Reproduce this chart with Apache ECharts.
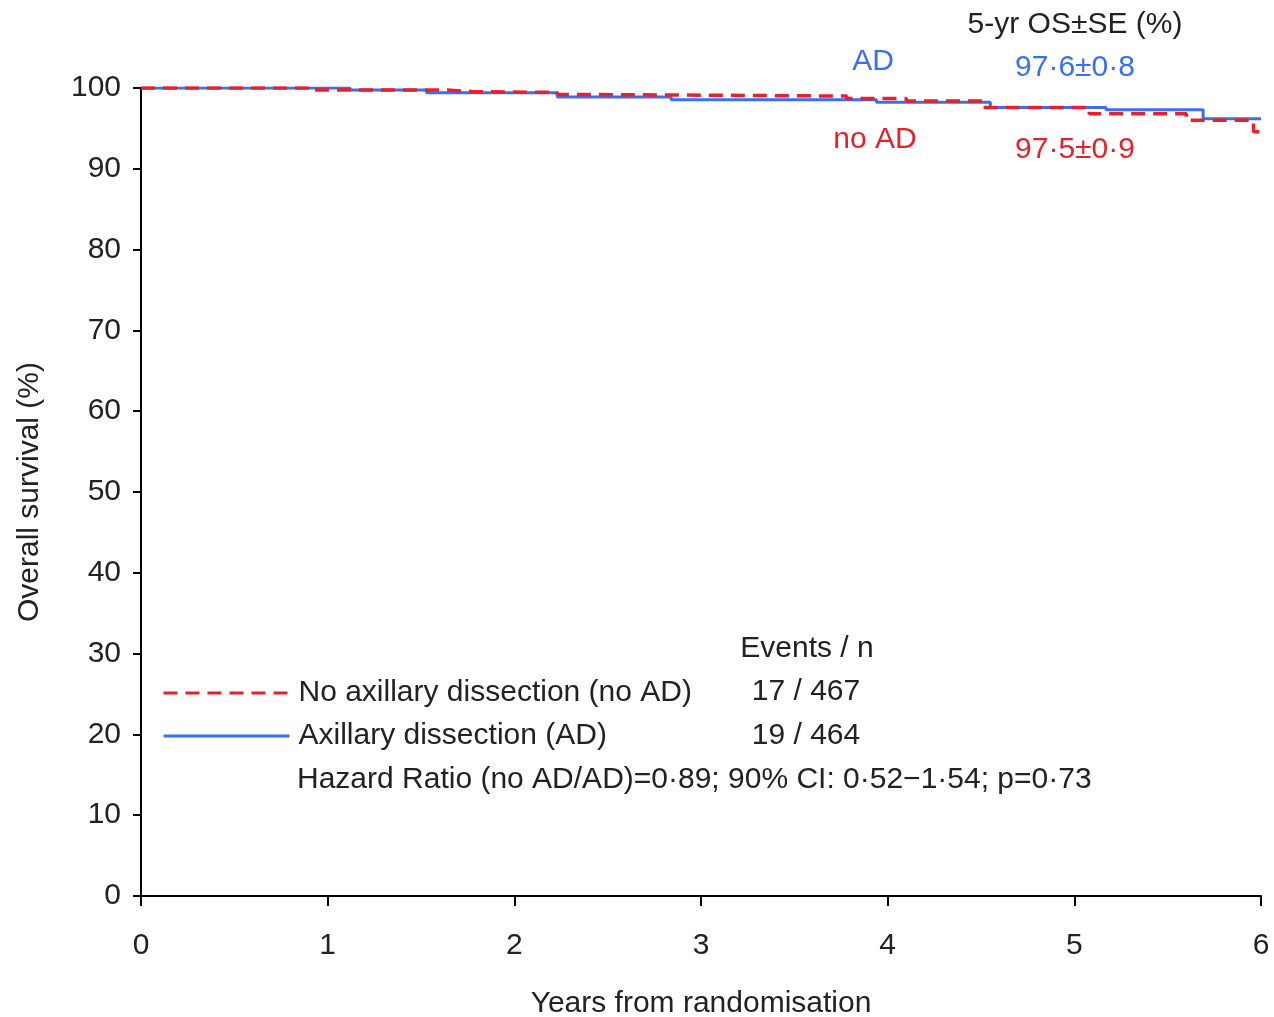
<!DOCTYPE html>
<html>
<head>
<meta charset="utf-8">
<script src="https://cdn.jsdelivr.net/npm/echarts@6/dist/echarts.min.js"></script>
<style>
  html, body { margin: 0; padding: 0; background: #fff; }
  #chart { width: 1274px; height: 1017px; }
</style>
</head>
<body>
<div id="chart"></div>
<script>
// Kaplan-Meier steps: [year of event, survival % after event]
const adSteps = [
  [0, 100], [1.12, 99.75], [1.53, 99.4], [2.23, 98.9], [2.84, 98.55],
  [3.94, 98.25], [4.55, 97.6], [5.17, 97.3], [5.69, 96.2], [6.0, 96.2]
];
const noAdSteps = [
  [0, 100], [0.93, 99.75], [1.64, 99.55], [1.78, 99.45], [2.23, 99.2],
  [2.38, 99.0], [3.78, 98.7], [4.1, 98.4], [4.51, 97.6], [5.08, 96.8],
  [5.6, 96.0], [5.96, 94.6], [6.0, 94.6]
];
const seriesNames = ["No axillary dissection (no AD)", "Axillary dissection (AD)"];
const eventsN = ["17 / 467", "19 / 464"];
const osTitle = "5-yr OS\u00b1SE (%)";
const osAd = "97\u00b76\u00b10\u00b78";
const osNoAd = "97\u00b75\u00b10\u00b79";
const hazardText = "Hazard Ratio (no AD/AD)=0\u00b789; 90% CI: 0\u00b752\u22121\u00b754; p=0\u00b773";

const red = "#e8202a";
const blue = "#3a6ff2";
const txt = "#222";
const font = "Liberation Sans, Arial, sans-serif";
const fs = 30;

function label(x, y, text, color, align) {
  return {
    type: "text",
    x: x,
    y: y,
    style: {
      text: text,
      fontSize: fs,
      fill: color,
      fontFamily: font,
      align: align || "center",
      verticalAlign: "middle"
    }
  };
}

const chart = echarts.init(document.getElementById("chart"), null, { renderer: "canvas" });

chart.setOption({
  animation: false,
  backgroundColor: "#fff",
  textStyle: { fontFamily: font },
  grid: { left: 141, right: 13, top: 88, bottom: 121, outerBoundsMode: "none", containLabel: false },
  xAxis: {
    type: "value",
    min: 0,
    max: 6,
    interval: 1,
    name: "Years from randomisation",
    nameLocation: "middle",
    nameGap: 93,
    nameTextStyle: { fontSize: fs, color: txt, fontFamily: font },
    axisLine: { onZero: false, lineStyle: { color: "#000", width: 2 } },
    axisTick: { show: true, length: 10, lineStyle: { color: "#000", width: 2 } },
    axisLabel: { fontSize: fs, color: txt, margin: 35, fontFamily: font },
    splitLine: { show: false }
  },
  yAxis: {
    type: "value",
    min: 0,
    max: 100,
    interval: 10,
    name: "Overall survival (%)",
    nameLocation: "middle",
    nameGap: 96,
    nameTextStyle: { fontSize: fs, color: txt, fontFamily: font },
    axisLine: { show: true, lineStyle: { color: "#000", width: 2 } },
    axisTick: { show: true, length: 8, lineStyle: { color: "#000", width: 2 } },
    axisLabel: { fontSize: fs, color: txt, margin: 20, fontFamily: font },
    splitLine: { show: false }
  },
  legend: {
    orient: "vertical",
    left: 157,
    top: 673,
    itemWidth: 126,
    itemHeight: 14,
    itemGap: 13,
    itemStyle: { opacity: 0 },
    lineStyle: { width: 3 },
    data: [seriesNames[0], seriesNames[1]],
    textStyle: { fontSize: fs, color: txt, fontFamily: font, padding: [0, 0, 0, 4] }
  },
  series: [
    {
      name: seriesNames[1],
      type: "line",
      step: "end",
      symbol: "none",
      data: adSteps,
      lineStyle: { color: blue, width: 3 },
      itemStyle: { color: blue }
    },
    {
      name: seriesNames[0],
      type: "line",
      step: "end",
      symbol: "none",
      data: noAdSteps,
      lineStyle: { color: red, width: 3.5, type: [14, 8] },
      itemStyle: { color: red }
    }
  ],
  graphic: [
    label(1075, 25, osTitle, txt),
    label(873, 62, "AD", blue),
    label(1075, 68, osAd, blue),
    label(875, 140, "no AD", red),
    label(1075, 150, osNoAd, red),
    label(807, 649, "Events / n", txt),
    label(806, 692, eventsN[0], txt),
    label(806, 736, eventsN[1], txt),
    label(297, 780, hazardText, txt, "left")
  ]
});
</script>
</body>
</html>
